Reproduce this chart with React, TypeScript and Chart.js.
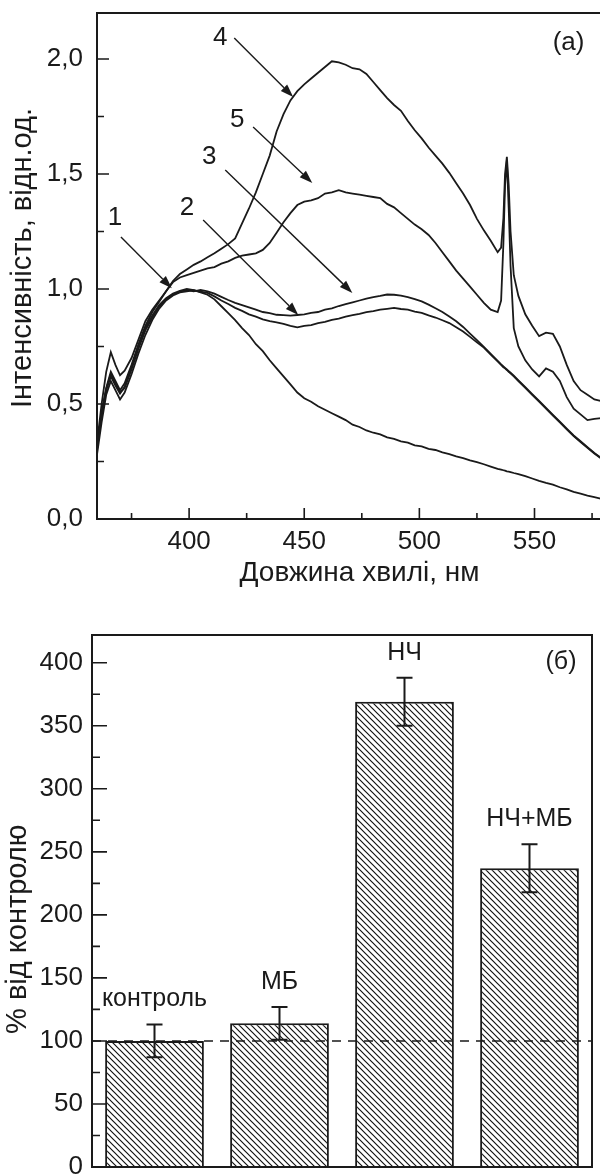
import React, { useEffect, useRef } from 'react';
import { Chart, registerables } from 'chart.js';

Chart.register(...registerables);

const FONT = "'Liberation Sans', Arial, Helvetica, sans-serif";
const INK = '#1a1a1a';

// ---------- Panel (a): emission spectra ----------
const wavelengths = [
  360, 362, 364, 366, 368, 370, 372, 375, 378, 381,
  384, 387, 390, 393, 396, 399, 402, 405, 408, 411,
  414, 417, 420, 423, 426, 429, 432, 435, 438, 441,
  444, 447, 450, 453, 456, 459, 462, 465, 468, 471,
  474, 477, 480, 483, 486, 489, 492, 495, 498, 501,
  504, 507, 510, 513, 516, 519, 522, 525, 528, 531,
  534, 535.5, 536.5, 537.2, 538, 538.8, 539.6, 541, 543, 546,
  549, 552, 555, 558, 561, 564, 567, 570, 573, 576,
  580,
];

const curve1 = [
  0.30, 0.45, 0.56, 0.62, 0.58, 0.545, 0.575, 0.66, 0.75, 0.83,
  0.885, 0.93, 0.96, 0.98, 0.992, 1.0, 0.995, 0.985, 0.975, 0.955,
  0.925, 0.895, 0.865, 0.83, 0.80, 0.76, 0.73, 0.69, 0.655, 0.62,
  0.585, 0.55, 0.525, 0.51, 0.49, 0.475, 0.46, 0.445, 0.43, 0.41,
  0.40, 0.385, 0.375, 0.368, 0.355, 0.348, 0.338, 0.332, 0.32, 0.316,
  0.305, 0.30, 0.29, 0.282, 0.272, 0.265, 0.255, 0.247, 0.238, 0.228,
  0.218, 0.215, 0.212, 0.21, 0.207, 0.206, 0.204, 0.20, 0.195, 0.186,
  0.176, 0.166, 0.157, 0.149, 0.138, 0.129, 0.118, 0.11, 0.102, 0.095,
  0.085,
];

const curve2 = [
  0.28, 0.42, 0.54, 0.60, 0.56, 0.52, 0.55, 0.63, 0.72, 0.80,
  0.865, 0.915, 0.95, 0.972, 0.985, 0.99, 0.995, 0.988, 0.983, 0.968,
  0.95, 0.935, 0.918, 0.905, 0.89, 0.88, 0.868, 0.86, 0.855, 0.848,
  0.84, 0.833, 0.84, 0.843, 0.852, 0.857, 0.866, 0.871, 0.88, 0.886,
  0.892, 0.899, 0.904, 0.91, 0.914, 0.918, 0.913, 0.91, 0.902, 0.896,
  0.885, 0.876, 0.864, 0.852, 0.834, 0.815, 0.792, 0.768, 0.745, 0.715,
  0.685, 0.67, 0.66, 0.655, 0.648, 0.64, 0.633, 0.62, 0.60, 0.57,
  0.54, 0.51, 0.48, 0.45, 0.42, 0.39, 0.36, 0.335, 0.31, 0.285,
  0.255,
];

const curve3 = [
  0.31, 0.46, 0.565, 0.63, 0.59, 0.55, 0.57, 0.65, 0.74, 0.82,
  0.875, 0.925, 0.955, 0.975, 0.99, 0.995, 0.99, 0.996, 0.99, 0.98,
  0.966, 0.952, 0.94, 0.93, 0.92, 0.91, 0.90, 0.895, 0.888, 0.886,
  0.884, 0.887, 0.89, 0.896, 0.90, 0.91, 0.916, 0.926, 0.934, 0.942,
  0.95, 0.958, 0.965, 0.97, 0.976, 0.975, 0.971, 0.965, 0.956, 0.946,
  0.932, 0.916, 0.90, 0.88, 0.86, 0.835, 0.806, 0.778, 0.748, 0.718,
  0.688, 0.672, 0.663, 0.657, 0.65, 0.643, 0.636, 0.623, 0.603, 0.573,
  0.543, 0.513, 0.483, 0.453, 0.423, 0.393, 0.363, 0.338, 0.312, 0.287,
  0.258,
];

const curve4 = [
  0.31, 0.46, 0.57, 0.64, 0.60, 0.56, 0.59, 0.67, 0.76, 0.84,
  0.90, 0.945, 0.99, 1.035, 1.065, 1.085, 1.105, 1.12, 1.138, 1.155,
  1.175, 1.195, 1.22, 1.285, 1.35, 1.42, 1.50, 1.58, 1.685, 1.76,
  1.82, 1.86, 1.89, 1.915, 1.94, 1.965, 1.99, 1.985, 1.975, 1.96,
  1.955, 1.935, 1.90, 1.865, 1.83, 1.80, 1.775, 1.73, 1.69, 1.655,
  1.615, 1.58, 1.545, 1.505, 1.46, 1.415, 1.365, 1.305, 1.255, 1.21,
  1.16, 1.18, 1.31, 1.50, 1.575, 1.45, 1.25, 1.06, 0.97, 0.89,
  0.84, 0.795, 0.81, 0.805, 0.75, 0.67, 0.60, 0.56, 0.54, 0.52,
  0.51,
];

const curve5 = [
  0.33, 0.50, 0.64, 0.725, 0.67, 0.625, 0.645, 0.70, 0.78, 0.86,
  0.91, 0.95, 0.99, 1.03, 1.05, 1.06, 1.07, 1.08, 1.09, 1.095,
  1.11, 1.12, 1.135, 1.145, 1.15, 1.155, 1.17, 1.20, 1.245, 1.29,
  1.33, 1.365, 1.38, 1.385, 1.395, 1.415, 1.42, 1.43, 1.42, 1.415,
  1.41, 1.405, 1.40, 1.395, 1.37, 1.355, 1.33, 1.305, 1.28, 1.26,
  1.235, 1.20, 1.16, 1.12, 1.08, 1.045, 1.01, 0.975, 0.94, 0.91,
  0.90, 0.95, 1.20, 1.45, 1.56, 1.35, 1.10, 0.83, 0.75, 0.69,
  0.65, 0.62, 0.655, 0.64, 0.60, 0.53, 0.48, 0.455, 0.43, 0.435,
  0.44,
];

const curves = [curve1, curve2, curve3, curve4, curve5];
const curveNames = ['1', '2', '3', '4', '5'];

const xMajorTicks = [400, 450, 500, 550];
const xMinorTicks = [375, 425, 475, 525, 575];
const yMajorTicksA = [0, 0.5, 1.0, 1.5, 2.0];
const yMinorTicksA = [0.25, 0.75, 1.25, 1.75];

// curve-number annotations (data coordinates)
const noteLabelX = [367.8, 399.1, 408.7, 413.5, 420.9];
const noteLabelY = [1.309, 1.352, 1.574, 2.093, 1.735];
const noteStartX = [370.4, 406.1, 415.7, 419.6, 427.8];
const noteStartY = [1.226, 1.30, 1.517, 2.091, 1.704];
const noteEndX = [392.5, 447.4, 470.9, 445.2, 453.5];
const noteEndY = [1.003, 0.887, 0.983, 1.835, 1.461];

// ---------- Panel (б): bar chart ----------
const groups = ['контроль', 'МБ', 'НЧ', 'НЧ+МБ'];
const percentOfControl = [100, 114, 369, 237];
const errorValues = [13, 13, 19, 19];
const controlLevel = 100;
const yMajorTicksB = [0, 50, 100, 150, 200, 250, 300, 350, 400];
const yMinorTicksB = [25, 75, 125, 175, 225, 275, 325, 375];

function commaFmt(v: number) {
  return v.toFixed(1).replace('.', ',');
}

function drawArrow(ctx: CanvasRenderingContext2D, x0: number, y0: number, x1: number, y1: number) {
  const ang = Math.atan2(y1 - y0, x1 - x0);
  const len = 13;
  const hw = 4.5;
  const bx = x1 - len * Math.cos(ang);
  const by = y1 - len * Math.sin(ang);
  ctx.beginPath();
  ctx.moveTo(x0, y0);
  ctx.lineTo(bx, by);
  ctx.stroke();
  ctx.beginPath();
  ctx.moveTo(x1, y1);
  ctx.lineTo(bx + hw * Math.sin(ang), by - hw * Math.cos(ang));
  ctx.lineTo(bx - hw * Math.sin(ang), by + hw * Math.cos(ang));
  ctx.closePath();
  ctx.fill();
}

const spectrumDecor = {
  id: 'spectrumDecor',
  afterDatasetsDraw(chart: any) {
    const { ctx, chartArea: a, scales } = chart;
    const x = scales.x;
    const y = scales.y;
    ctx.save();
    ctx.strokeStyle = INK;
    ctx.fillStyle = INK;
    ctx.lineWidth = 2;
    ctx.strokeRect(a.left, a.top, a.right - a.left, a.bottom - a.top);
    ctx.lineWidth = 1.6;
    ctx.beginPath();
    xMajorTicks.forEach((v) => {
      const px = x.getPixelForValue(v);
      ctx.moveTo(px, a.bottom);
      ctx.lineTo(px, a.bottom - 11);
    });
    xMinorTicks.forEach((v) => {
      const px = x.getPixelForValue(v);
      ctx.moveTo(px, a.bottom);
      ctx.lineTo(px, a.bottom - 6);
    });
    yMajorTicksA.forEach((v) => {
      const py = y.getPixelForValue(v);
      ctx.moveTo(a.left, py);
      ctx.lineTo(a.left + 12, py);
    });
    yMinorTicksA.forEach((v) => {
      const py = y.getPixelForValue(v);
      ctx.moveTo(a.left, py);
      ctx.lineTo(a.left + 7, py);
    });
    ctx.stroke();

    ctx.lineWidth = 1.4;
    ctx.font = `26px ${FONT}`;
    ctx.textAlign = 'center';
    ctx.textBaseline = 'middle';
    curveNames.forEach((name, i) => {
      ctx.fillText(name, x.getPixelForValue(noteLabelX[i]), y.getPixelForValue(noteLabelY[i]));
      drawArrow(
        ctx,
        x.getPixelForValue(noteStartX[i]),
        y.getPixelForValue(noteStartY[i]),
        x.getPixelForValue(noteEndX[i]),
        y.getPixelForValue(noteEndY[i])
      );
    });
    ctx.fillText('(a)', x.getPixelForValue(564.8), y.getPixelForValue(2.07));
    ctx.restore();
  },
};

function makeHatch() {
  const c = document.createElement('canvas');
  c.width = 6;
  c.height = 6;
  const g = c.getContext('2d')!;
  g.fillStyle = '#fff';
  g.fillRect(0, 0, 6, 6);
  g.strokeStyle = '#111';
  g.lineWidth = 1.15;
  g.beginPath();
  g.moveTo(-1, -1);
  g.lineTo(7, 7);
  g.moveTo(-1, 5);
  g.lineTo(1, 7);
  g.moveTo(5, -1);
  g.lineTo(7, 1);
  g.stroke();
  return g.createPattern(c, 'repeat');
}

const barDecor = {
  id: 'barDecor',
  afterDatasetsDraw(chart: any) {
    const { ctx, chartArea: a, scales } = chart;
    const y = scales.y;
    const meta = chart.getDatasetMeta(0);
    ctx.save();
    ctx.strokeStyle = INK;
    ctx.fillStyle = INK;

    // dashed control level
    ctx.lineWidth = 1.6;
    ctx.setLineDash([9, 7]);
    const cy = y.getPixelForValue(controlLevel);
    ctx.beginPath();
    ctx.moveTo(a.left, cy);
    ctx.lineTo(a.right, cy);
    ctx.stroke();
    ctx.setLineDash([]);

    // error bars + labels
    ctx.lineWidth = 2;
    ctx.font = `25px ${FONT}`;
    ctx.textAlign = 'center';
    ctx.textBaseline = 'middle';
    meta.data.forEach((bar: any, i: number) => {
      const bx = bar.x;
      const top = y.getPixelForValue(percentOfControl[i] + errorValues[i]);
      const bot = y.getPixelForValue(percentOfControl[i] - errorValues[i]);
      ctx.beginPath();
      ctx.moveTo(bx, top);
      ctx.lineTo(bx, bot);
      ctx.moveTo(bx - 8, top);
      ctx.lineTo(bx + 8, top);
      ctx.moveTo(bx - 8, bot);
      ctx.lineTo(bx + 8, bot);
      ctx.stroke();
      ctx.fillText(groups[i], bx, top - 25);
    });

    // frame and inward ticks
    ctx.lineWidth = 2;
    ctx.strokeRect(a.left, a.top, a.right - a.left, a.bottom - a.top);
    ctx.lineWidth = 1.6;
    ctx.beginPath();
    yMajorTicksB.forEach((v) => {
      const py = y.getPixelForValue(v);
      ctx.moveTo(a.left, py);
      ctx.lineTo(a.left + 15, py);
    });
    yMinorTicksB.forEach((v) => {
      const py = y.getPixelForValue(v);
      ctx.moveTo(a.left, py);
      ctx.lineTo(a.left + 8, py);
    });
    ctx.stroke();

    ctx.font = `25px ${FONT}`;
    ctx.fillText('(б)', a.right - 31, a.top + 27);
    ctx.restore();
  },
};

export default function App() {
  const topRef = useRef<HTMLCanvasElement | null>(null);
  const botRef = useRef<HTMLCanvasElement | null>(null);

  useEffect(() => {
    const top = new Chart(topRef.current!, {
      type: 'line',
      data: {
        datasets: curves.map((c, i) => ({
          label: curveNames[i],
          data: wavelengths.map((w, j) => ({ x: w, y: c[j] })),
          borderColor: INK,
          borderWidth: 1.8,
          pointRadius: 0,
          tension: 0,
          fill: false,
        })),
      },
      options: {
        responsive: false,
        animation: false,
        layout: { padding: { top: 13, right: 18, bottom: 0, left: 0 } },
        plugins: { legend: { display: false }, tooltip: { enabled: false } },
        scales: {
          x: {
            type: 'linear',
            min: 360,
            max: 588,
            grid: { display: false, drawTicks: false },
            border: { display: false },
            afterBuildTicks: (s: any) => {
              s.ticks = xMajorTicks.map((v) => ({ value: v }));
            },
            afterFit: (s: any) => {
              s.height = 81;
              s.paddingLeft = 0;
              s.paddingRight = 0;
            },
            ticks: {
              font: { size: 26, family: FONT, lineHeight: 1 },
              color: INK,
              padding: 10,
              maxRotation: 0,
              autoSkip: false,
              callback: (v: any) => String(v),
            },
            title: {
              display: true,
              text: 'Довжина хвилі, нм',
              font: { size: 28, family: FONT, lineHeight: 1 },
              color: INK,
              padding: { top: 0, bottom: 13 },
            },
          },
          y: {
            type: 'linear',
            min: 0,
            max: 2.2,
            grid: { display: false, drawTicks: false },
            border: { display: false },
            afterBuildTicks: (s: any) => {
              s.ticks = yMajorTicksA.map((v) => ({ value: v }));
            },
            afterFit: (s: any) => {
              s.width = 97;
              s.paddingTop = 0;
              s.paddingBottom = 0;
            },
            ticks: {
              font: { size: 26, family: FONT, lineHeight: 1 },
              color: INK,
              padding: 14,
              autoSkip: false,
              callback: (v: any) => commaFmt(Number(v)),
            },
            title: {
              display: true,
              text: '  Інтенсивність, відн.од.',
              font: { size: 29, family: FONT, lineHeight: 1 },
              color: INK,
              padding: { top: 8, bottom: 0 },
            },
          },
        },
      },
      plugins: [spectrumDecor],
    } as any);

    const bottom = new Chart(botRef.current!, {
      type: 'bar',
      data: {
        labels: groups,
        datasets: [
          {
            data: percentOfControl,
            backgroundColor: makeHatch() as any,
            borderColor: INK,
            borderWidth: 2,
            barPercentage: 0.79,
            categoryPercentage: 1,
          },
        ],
      },
      options: {
        responsive: false,
        animation: false,
        layout: { padding: { top: 35, right: 8, bottom: 33, left: 0 } },
        plugins: { legend: { display: false }, tooltip: { enabled: false } },
        scales: {
          x: { display: false },
          y: {
            min: 0,
            max: 422,
            grid: { display: false, drawTicks: false },
            border: { display: false },
            afterBuildTicks: (s: any) => {
              s.ticks = yMajorTicksB.map((v) => ({ value: v }));
            },
            afterFit: (s: any) => {
              s.width = 92;
              s.paddingTop = 0;
              s.paddingBottom = 0;
            },
            ticks: {
              font: { size: 26, family: FONT, lineHeight: 1 },
              color: INK,
              padding: 9,
              autoSkip: false,
              callback: (v: any) => String(v),
            },
            title: {
              display: true,
              text: '% від контролю       ',
              font: { size: 29, family: FONT, lineHeight: 1 },
              color: INK,
              padding: { top: 3, bottom: 0 },
            },
          },
        },
      },
      plugins: [barDecor],
    } as any);

    return () => {
      top.destroy();
      bottom.destroy();
    };
  }, []);

  return (
    <div
      style={{
        position: 'absolute',
        left: 0,
        top: 0,
        width: 600,
        height: 1175,
        overflow: 'hidden',
        background: '#fff',
      }}
    >
      <div style={{ position: 'absolute', left: 0, top: 0, width: 640, height: 600 }}>
        <canvas ref={topRef} width={640} height={600} style={{ display: 'block' }} />
      </div>
      <div style={{ position: 'absolute', left: 0, top: 600, width: 600, height: 600 }}>
        <canvas ref={botRef} width={600} height={600} style={{ display: 'block' }} />
      </div>
    </div>
  );
}
